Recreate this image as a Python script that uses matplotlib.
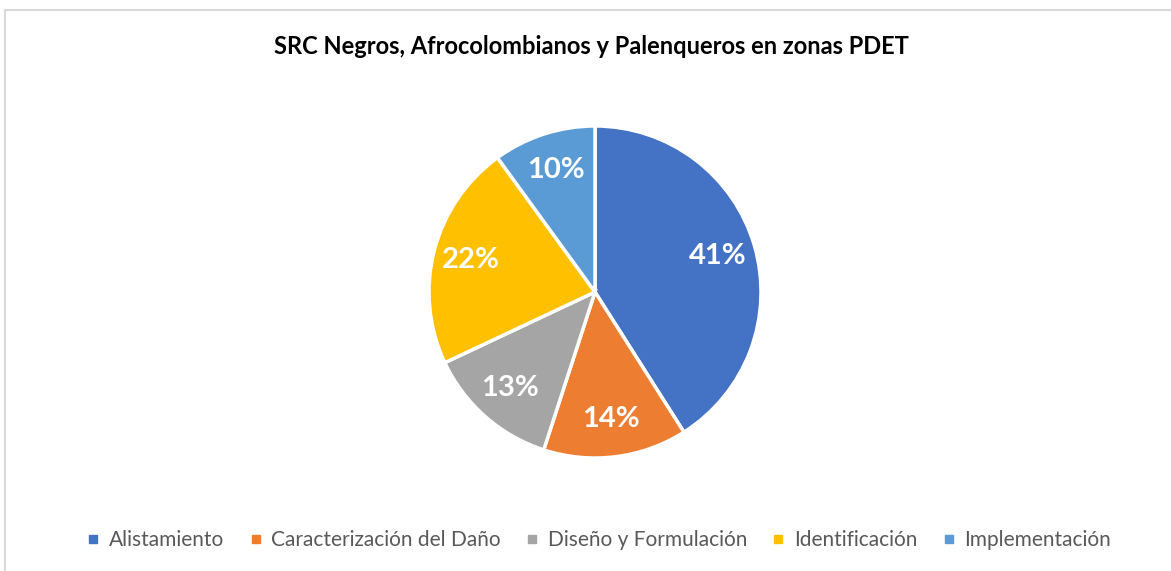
import matplotlib.pyplot as plt
from matplotlib.lines import Line2D

plt.rcParams['font.family'] = ['Lato', 'DejaVu Sans']

categorias = ['Alistamiento', 'Caracterización del Daño', 'Diseño y Formulación',
              'Identificación', 'Implementación']
valores = [41, 14, 13, 22, 10]
colores = ['#4472C4', '#ED7D31', '#A5A5A5', '#FFC000', '#5B9BD5']

W, H = 1171, 571
fig = plt.figure(figsize=(W / 100, H / 100), dpi=100)

# marco gris del gráfico
fig.add_artist(plt.Line2D([5 / W, 5 / W], [0, 1 - 10 / H], color='#D9D9D9', lw=1.5))
fig.add_artist(plt.Line2D([5 / W, 1], [1 - 10 / H, 1 - 10 / H], color='#D9D9D9', lw=1.5))

# pastel
cx, cy, r = 595, 292, 166
m = 1.05
lado = 2 * m * r
ax = fig.add_axes([(cx - m * r) / W, 1 - (cy + m * r) / H, lado / W, lado / H])
wedges, _, autotexts = ax.pie(valores, colors=colores, startangle=90, counterclock=False,
                              autopct='%d%%', pctdistance=0.77,
                              wedgeprops=dict(edgecolor='white', linewidth=2.5))
for t in autotexts:
    t.set_color('white')
    t.set_fontsize(21)
    t.set_fontweight('bold')
ax.set_xlim(-m, m)
ax.set_ylim(-m, m)
ax.set_aspect('equal')
ax.axis('off')

fig.text(591 / W, 1 - 46 / H, 'SRC Negros, Afrocolombianos y Palenqueros en zonas PDET',
         ha='center', va='center', fontsize=17, fontweight='bold', color='black')

handles = [Line2D([], [], marker='s', linestyle='none', markersize=6,
                  markerfacecolor=c, markeredgecolor=c) for c in colores]
fig.legend(handles, categorias, loc='center', bbox_to_anchor=(599 / W, 1 - 540 / H),
           ncol=5, frameon=False, fontsize=15, labelcolor='#595959',
           handlelength=0.6, handletextpad=0.45, columnspacing=1.2)

fig.savefig('out.png', dpi=100)
